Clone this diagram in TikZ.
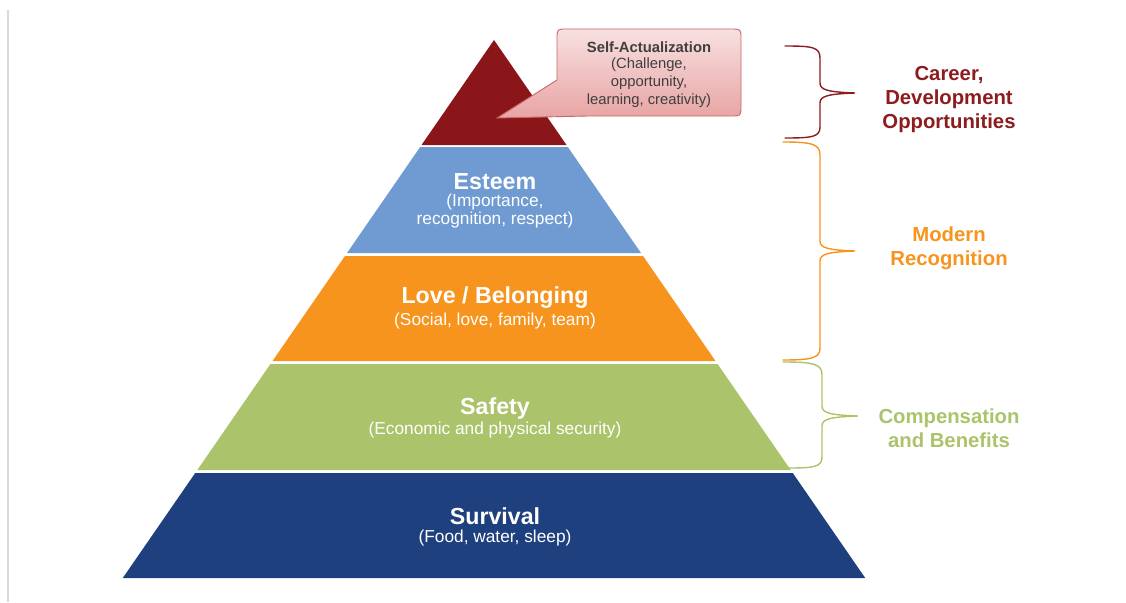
\documentclass[tikz,border=0pt]{standalone}
\usepackage{fontspec}
\setmainfont{Liberation Sans}
\usetikzlibrary{positioning}

\definecolor{selfred}{HTML}{8B1619}
\definecolor{esteemblue}{HTML}{6F9BD2}
\definecolor{loveorange}{HTML}{F7941D}
\definecolor{safetygreen}{HTML}{ABC36B}
\definecolor{survivalblue}{HTML}{1F407E}
\definecolor{careerred}{HTML}{8C1C1E}
\definecolor{calltop}{HTML}{F8E0E0}
\definecolor{callbottom}{HTML}{E8A4A4}
\definecolor{callline}{HTML}{C86668}
\definecolor{calltext}{HTML}{3F3F3F}

\tikzstyle{tiertitle} = [text=white, inner sep=0pt, font=\fontsize{23.2}{25}\selectfont\bfseries]
\tikzstyle{tiernote} = [text=white, inner sep=0pt, align=center, font=\fontsize{17.3}{18}\selectfont]
\tikzstyle{calloutfont} = [text=calltext, inner sep=0pt, align=center, font=\fontsize{14.8}{18}\selectfont]
\tikzstyle{bracelabel} = [inner sep=0pt, align=center, font=\fontsize{20.3}{24}\selectfont\bfseries]
\tikzstyle{bracket} = [line width=1.4pt, line cap=round]

\begin{document}
\begin{tikzpicture}[x=1pt,y=-1pt]
    \useasboundingbox (0,0) rectangle (1126,602);
    \draw[gray!30, line width=2pt] (8,10) -- (8,602);

    % pyramid, top to bottom
    \fill[selfred] (494,40) -- (566.5,145) -- (421.5,145) -- cycle;
    \foreach \ytop/\ybot/\col in {147/253/esteemblue, 256/361/loveorange, 364/470/safetygreen, 473/578/survivalblue}
        \fill[\col] ({494-0.69*(\ytop-40)},\ytop) -- ({494+0.69*(\ytop-40)},\ytop)
            -- ({494+0.69*(\ybot-40)},\ybot) -- ({494-0.69*(\ybot-40)},\ybot) -- cycle;

    \node[tiertitle] (esteem) at (495,182) {Esteem};
    \node[tiernote] (esteemnote) at (495,211) {(Importance,\\recognition, respect)};
    \node[tiertitle] (love) at (495,298) {Love / Belonging};
    \node[tiernote] (lovenote) at (495,321) {(Social, love, family, team)};
    \node[tiertitle] (safety) at (495,408) {Safety};
    \node[tiernote] (safetynote) at (495,430) {(Economic and physical security)};
    \node[tiertitle] (survival) at (495,516) {Survival};
    \node[tiernote] (survivalnote) at (495,538) {(Food, water, sleep)};

    % speech bubble for the top level
    \coordinate (selftip) at (497,118);
    \draw[callline, line width=0.9pt, top color=calltop, bottom color=callbottom]
        (557,80) -- (557,39) .. controls (557,29) .. (567,29) -- (731,29)
        .. controls (741,29) .. (741,39) -- (741,106) .. controls (741,116) .. (731,116)
        -- (588,116) -- (selftip) -- cycle;
    \node[calloutfont, font=\fontsize{14.8}{18}\selectfont\bfseries] (selfact) at (649,47) {Self-Actualization};
    \node[calloutfont] (selfnote) at (649,83) {(Challenge,\\opportunity,\\learning, creativity)};

    % braces on the right
    \draw[bracket, careerred] (785,46) .. controls (812,46) and (820,47) .. (820,58) -- (820,83)
        .. controls (820,90) and (828,92) .. (855,93) .. controls (828,94) and (820,96) .. (820,103)
        -- (820,127) .. controls (820,137) and (812,138) .. (785,138);
    \draw[bracket, loveorange] (783,142) .. controls (812,142) and (820,144) .. (820,155) -- (820,241)
        .. controls (820,248) and (828,250) .. (855,251) .. controls (828,252) and (820,254) .. (820,261)
        -- (820,348) .. controls (820,358) and (812,360) .. (783,360);
    \draw[bracket, safetygreen] (783,362) .. controls (814,362) and (822,364) .. (822,375) -- (822,406)
        .. controls (822,413) and (830,415) .. (858,416) .. controls (830,417) and (822,419) .. (822,426)
        -- (822,457) .. controls (822,467) and (814,468) .. (787,468);

    \node[bracelabel, text=careerred] (career) at (949,100) {Career,\\Development\\Opportunities};
    \node[bracelabel, text=loveorange] (modern) at (949,248) {Modern\\Recognition};
    \node[bracelabel, text=safetygreen] (compensation) at (949,428) {Compensation\\and Benefits};
\end{tikzpicture}
\end{document}
